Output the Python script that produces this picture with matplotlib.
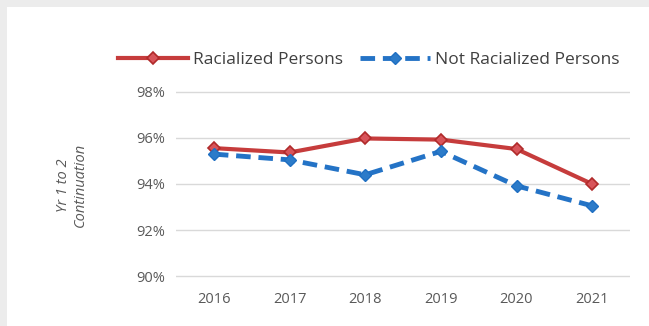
import numpy as np
import matplotlib.pyplot as plt

# Chart data
years = ['2016', '2017', '2018', '2019', '2020', '2021']
racialized = [95.56, 95.37, 95.98, 95.93, 95.52, 94.0]
not_racialized = [95.30, 95.05, 94.40, 95.42, 93.92, 93.05]
y_ticks = [90, 92, 94, 96, 98]

plt.rcParams['font.family'] = ['Open Sans', 'DejaVu Sans']

fig = plt.figure(figsize=(6.49, 3.26), dpi=100)
fig.patch.set_facecolor('#ececec')
# white panel behind everything
bg = fig.add_axes([7 / 649, 0, 1 - 7 / 649, 1 - 7 / 326], zorder=0)
bg.set_facecolor('white')
bg.set_xticks([])
bg.set_yticks([])
for s in bg.spines.values():
    s.set_visible(False)

# 23 px per percentage point, pad 0.1 so edge gridlines are not clipped
ax = fig.add_axes([176 / 649, 1 - 278.3 / 326, 454 / 649, 188.6 / 326], zorder=2)
ax.set_facecolor('none')

x = np.arange(len(years))
ax.plot(x, racialized, color='#c63c3c', lw=3, marker='D', ms=6.5,
        mfc='#d8545a', mec='#b02a2a', mew=1.2, label='Racialized Persons', zorder=3)
ax.plot(x, not_racialized, color='#2473c6', lw=3.5, ls=(0, (3, 1.6)), marker='D', ms=6.5,
        mfc='#2c7bc9', mec='#1f6fc2', label='Not Racialized Persons', zorder=3)

ax.set_xlim(-0.5, len(years) - 0.5)
ax.set_ylim(89.9, 98.1)
ax.set_xticks(x)
ax.set_xticklabels(years)
ax.set_yticks(y_ticks)
ax.set_yticklabels([f'{v}%' for v in y_ticks])
ax.tick_params(length=0, labelsize=10.5, colors='#595959', pad=8)
ax.tick_params(axis='x', pad=10)
ax.grid(axis='y', color='#d9d9d9', lw=1)
ax.set_axisbelow(True)
for s in ax.spines.values():
    s.set_visible(False)

fig.text(72 / 649, 1 - 185 / 326, 'Yr 1 to 2\nContinuation', rotation=90, style='italic',
         ha='center', va='center', fontsize=10.5, color='#595959', linespacing=1.2)

fig.legend(loc='center', bbox_to_anchor=(369 / 649, 1 - 60 / 326), ncol=2, frameon=False,
           fontsize=12.5, handlelength=4.0, columnspacing=1.0, handletextpad=0.3,
           labelcolor='#404040')

fig.savefig('out.png', dpi=100, facecolor=fig.get_facecolor())
